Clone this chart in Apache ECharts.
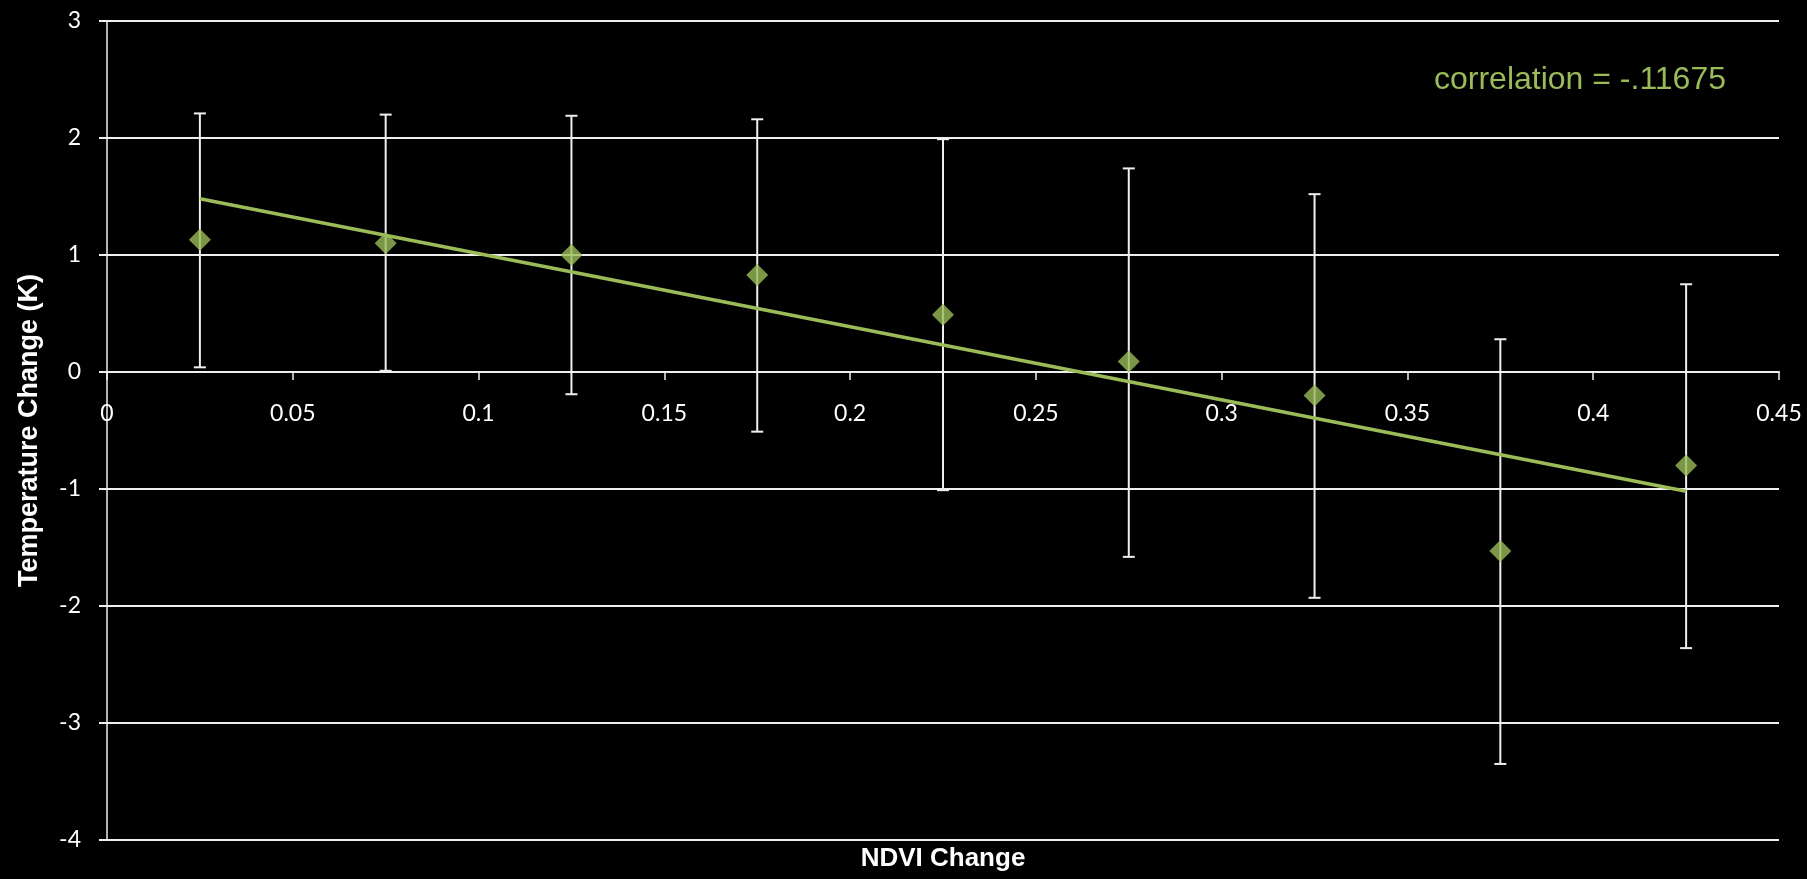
<!DOCTYPE html>
<html>
<head>
<meta charset="utf-8">
<title>NDVI Change vs Temperature Change</title>
<script src="https://cdn.jsdelivr.net/npm/echarts@6/dist/echarts.min.js"></script>
<style>
  html, body { margin: 0; padding: 0; background: #000; }
  #chart { width: 1807px; height: 879px; }
</style>
</head>
<body>
<div id="chart"></div>
<script>
// NDVI change bin centres
const ndviChange = [0.025, 0.075, 0.125, 0.175, 0.225, 0.275, 0.325, 0.375, 0.425];
// Mean temperature change (K) per bin
const tempChange = [1.13, 1.10, 1.00, 0.83, 0.49, 0.09, -0.20, -1.53, -0.80];
// Error bar extents (K)
const errHigh = [2.21, 2.20, 2.19, 2.16, 1.99, 1.74, 1.52, 0.28, 0.75];
const errLow = [0.04, 0.01, -0.19, -0.51, -1.01, -1.58, -1.93, -3.35, -2.36];
// Linear trend line end points
const trendX = [0.025, 0.425];
const trendY = [1.48, -1.02];
// Axis ticks
const xTicks = [0, 0.05, 0.1, 0.15, 0.2, 0.25, 0.3, 0.35, 0.4, 0.45];
const yTicks = [-4, -3, -2, -1, 0, 1, 2, 3];

const correlationText = 'correlation = -.11675';
const green = '#9BBB59';
const lineWhite = '#efefef';

const points = ndviChange.map((x, i) => [x, tempChange[i]]);
const errData = ndviChange.map((x, i) => [x, errLow[i], errHigh[i]]);
const trendData = trendX.map((x, i) => [x, trendY[i]]);

// Plot area geometry
const gridTop = 21, gridBottom = 39, chartHeight = 879;
const plotHeight = chartHeight - gridTop - gridBottom;
const yMin = yTicks[0], yMax = yTicks[yTicks.length - 1];
// Lift the x axis (line, ticks and labels) up to the y = 0 line
const zeroOffset = -plotHeight * (0 - yMin) / (yMax - yMin);

const chart = echarts.init(document.getElementById('chart'));
chart.setOption({
  backgroundColor: '#000',
  animation: false,
  grid: { left: 107, right: 28, top: gridTop, bottom: gridBottom, containLabel: false },
  xAxis: {
    type: 'value',
    position: 'bottom',
    offset: zeroOffset,
    min: xTicks[0],
    max: xTicks[xTicks.length - 1],
    interval: 0.05,
    axisLine: { onZero: false, lineStyle: { color: lineWhite, width: 2 } },
    axisTick: { show: true, inside: false, length: 8, lineStyle: { color: lineWhite, width: 1.5 } },
    splitLine: { show: false },
    axisLabel: {
      color: '#fff', fontFamily: 'Lato', fontSize: 23, margin: 30,
      showMinLabel: true, showMaxLabel: true,
      formatter: v => String(+v.toFixed(2))
    }
  },
  yAxis: {
    type: 'value',
    min: yMin,
    max: yMax,
    interval: 1,
    name: 'Temperature Change (K)',
    nameLocation: 'middle',
    nameGap: 64,
    nameTextStyle: { color: '#fff', fontFamily: 'Liberation Sans', fontWeight: 'bold', fontSize: 27 },
    axisLine: { show: true, onZero: false, lineStyle: { color: lineWhite, width: 1.5 } },
    axisTick: { show: true, inside: false, length: 8, lineStyle: { color: lineWhite, width: 2 } },
    splitLine: { show: true, lineStyle: { color: lineWhite, width: 2 } },
    axisLabel: { color: '#fff', fontFamily: 'Lato', fontSize: 23, margin: 26 }
  },
  graphic: [
    {
      type: 'text',
      x: 943, y: 859,
      style: {
        text: 'NDVI Change', fill: '#fff', font: 'bold 26px "Liberation Sans"',
        align: 'center', verticalAlign: 'middle'
      },
      z: 10
    },
    {
      type: 'text',
      x: 1726, y: 80,
      style: {
        text: correlationText, fill: green, font: '32px "Liberation Sans"',
        align: 'right', verticalAlign: 'middle'
      },
      z: 10
    }
  ],
  series: [
    {
      type: 'custom',
      name: 'error',
      data: errData,
      z: 2,
      renderItem: (params, api) => {
        const x = api.value(0);
        const lo = api.coord([x, api.value(1)]);
        const hi = api.coord([x, api.value(2)]);
        const half = 6;
        const style = { stroke: lineWhite, lineWidth: 2, fill: null };
        return {
          type: 'group',
          children: [
            { type: 'line', shape: { x1: lo[0], y1: lo[1], x2: hi[0], y2: hi[1] }, style },
            { type: 'line', shape: { x1: hi[0] - half, y1: hi[1], x2: hi[0] + half, y2: hi[1] }, style },
            { type: 'line', shape: { x1: lo[0] - half, y1: lo[1], x2: lo[0] + half, y2: lo[1] }, style }
          ]
        };
      }
    },
    {
      type: 'line',
      name: 'trend',
      data: trendData,
      symbol: 'none',
      z: 3,
      lineStyle: { color: green, width: 3.5 }
    },
    {
      type: 'scatter',
      name: 'mean',
      data: points,
      symbol: 'diamond',
      symbolSize: 22,
      z: 4,
      itemStyle: { color: green }
    }
  ]
});
</script>
</body>
</html>
